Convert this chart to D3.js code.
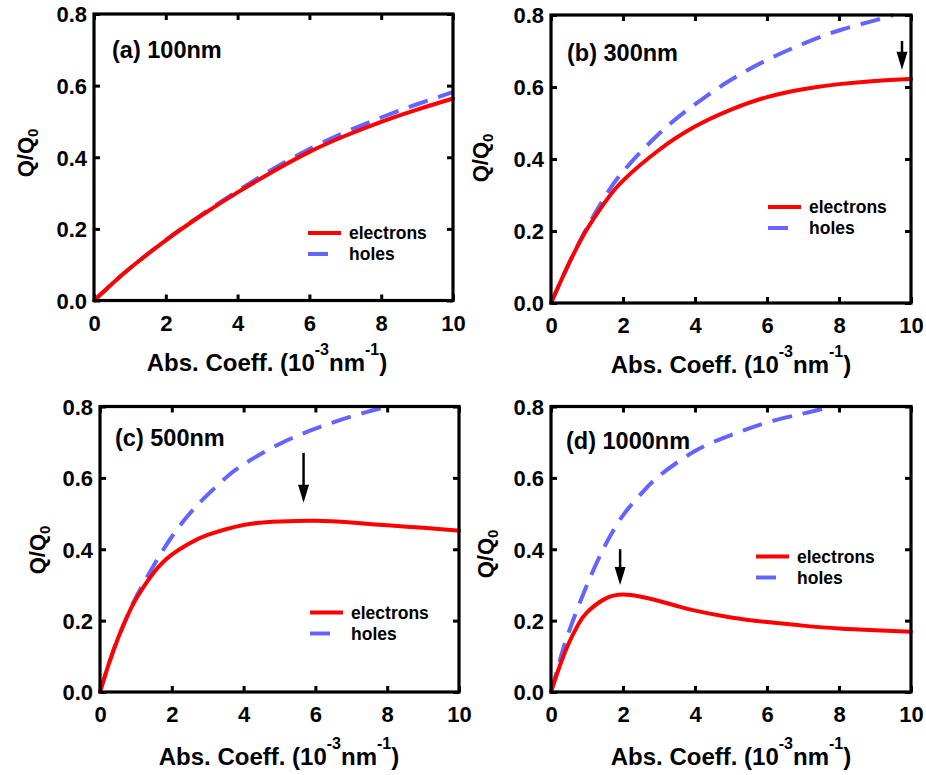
<!DOCTYPE html>
<html>
<head>
<meta charset="utf-8">
<script src="https://cdn.jsdelivr.net/npm/d3@7"></script>
<style>
  html, body { margin: 0; padding: 0; background: #fff; }
  svg { display: block; }
  text { font-family: "Liberation Sans", Arial, sans-serif; font-weight: bold; fill: #000; }
</style>
</head>
<body>
<svg id="chart" width="926" height="775"></svg>
<script>
// ---------------- DATA ----------------
const panelLabels = ["(a) 100nm", "(b) 300nm", "(c) 500nm", "(d) 1000nm"];
const seriesNames = ["electrons", "holes"];
const xTickValues = [0, 2, 4, 6, 8, 10];
const yTickValues = [0.0, 0.2, 0.4, 0.6, 0.8];
const xTitle = "Abs. Coeff.";
const yTitle = "Q/Q";

// (a) 100 nm
const electronsA = [[0,0],[0.5,0.046],[1,0.090],[2,0.168],[3,0.238],[4,0.302],[5,0.361],[6,0.415],[7,0.460],[8,0.499],[9,0.533],[10,0.564]];
const holesA     = [[0,0],[0.5,0.046],[1,0.090],[2,0.169],[3,0.240],[4,0.306],[5,0.368],[6,0.423],[7,0.470],[8,0.511],[9,0.548],[10,0.582]];
// (b) 300 nm
const electronsB = [[0,0],[0.5,0.110],[1,0.205],[1.5,0.280],[2,0.340],[3,0.425],[4,0.490],[5,0.537],[6,0.572],[7,0.594],[8,0.608],[9,0.617],[10,0.622]];
const holesB     = [[0,0],[0.5,0.110],[1,0.210],[1.5,0.295],[2,0.365],[3,0.470],[4,0.552],[5,0.620],[6,0.675],[7,0.720],[8,0.757],[9,0.785],[9.5,0.800]];
// (c) 500 nm
const electronsC = [[0,0],[0.25,0.08],[0.5,0.15],[0.75,0.21],[1,0.26],[1.5,0.335],[2,0.385],[2.5,0.417],[3,0.440],[4,0.468],[5,0.478],[6,0.480],[7,0.475],[8,0.467],[9,0.460],[10,0.452]];
const holesC     = [[0,0],[0.25,0.08],[0.5,0.15],[0.75,0.21],[1,0.265],[1.5,0.355],[2,0.435],[2.5,0.500],[3,0.553],[3.5,0.600],[4,0.638],[5,0.695],[6,0.738],[7,0.772],[8,0.800]];
// (d) 1000 nm
const electronsD = [[0,0],[0.25,0.075],[0.5,0.138],[0.75,0.188],[1,0.223],[1.5,0.261],[2,0.273],[2.5,0.267],[3,0.255],[3.5,0.241],[4,0.228],[5,0.209],[6,0.196],[7,0.186],[8,0.178],[9,0.173],[10,0.169]];
const holesD     = [[0,0],[0.25,0.09],[0.5,0.17],[1,0.300],[1.5,0.410],[2,0.495],[2.5,0.555],[3,0.605],[4,0.675],[5,0.720],[6,0.755],[7,0.780],[7.8,0.800]];

// arrow annotations: [x, yStart, yTip] (null = none)
const arrowMarks = [null, [9.75, 0.728, 0.648], [5.67, 0.67, 0.53], [1.92, 0.40, 0.30]];

const electronSeries = [electronsA, electronsB, electronsC, electronsD];
const holeSeries = [holesA, holesB, holesC, holesD];

// ---------------- LAYOUT ----------------
const panels = [
  {left: 94,  top: 14,    right: 453, bottom: 300.5, lab: [18, 44], leg: [214, 219], ytx: -69, ytc: 153, xtc: 173, xtb: 70},
  {left: 551, top: 15,    right: 911, bottom: 303,   lab: [16, 46], leg: [217, 192], ytx: -71, ytc: 158, xtc: 180, xtb: 69.5},
  {left: 100, top: 406.5, right: 459, bottom: 692,   lab: [15, 39], leg: [210, 206], ytx: -63, ytc: 550, xtc: 179, xtb: 73},
  {left: 551, top: 406.5, right: 911, bottom: 692,   lab: [15, 42], leg: [205, 150], ytx: -66, ytc: 554, xtc: 180, xtb: 73}
];

const RED = "#ff0000";
const BLUE = "#6464ff";
const svg = d3.select("#chart");
svg.append("rect").attr("width", 926).attr("height", 775).attr("fill", "#fff");

panels.forEach((p, i) => {
  const x = d3.scaleLinear().domain([0, 10]).range([p.left, p.right]);
  const y = d3.scaleLinear().domain([0, 0.8]).range([p.bottom, p.top]);
  const g = svg.append("g");

  // axes with inward ticks
  const fmt = d3.format(".1f");
  const axB = g.append("g").attr("transform", `translate(0,${p.bottom})`)
    .call(d3.axisBottom(x).tickValues(xTickValues).tickSize(-6).tickPadding(14).tickFormat(d3.format("d")));
  const axT = g.append("g").attr("transform", `translate(0,${p.top})`)
    .call(d3.axisTop(x).tickValues(xTickValues).tickSize(-6).tickFormat(""));
  const axL = g.append("g").attr("transform", `translate(${p.left},0)`)
    .call(d3.axisLeft(y).tickValues(yTickValues).tickSize(-6).tickPadding(7).tickFormat(fmt));
  const axR = g.append("g").attr("transform", `translate(${p.right},0)`)
    .call(d3.axisRight(y).tickValues(yTickValues).tickSize(-6).tickFormat(""));
  [axB, axT, axL, axR].forEach(a => {
    a.select(".domain").remove();
    a.selectAll(".tick line").attr("stroke", "#000").attr("stroke-width", 3);
    a.selectAll(".tick text").style("font-size", "22px").style("font-weight", "bold")
      .style("font-family", "'Liberation Sans', Arial, sans-serif").attr("fill", "#000");
  });
  axB.selectAll(".tick text").attr("dy", null).attr("y", 30);
  axL.selectAll(".tick text").attr("x", -7).attr("dy", "0.36em");

  // curves
  const line = d3.line().x(d => x(d[0])).y(d => y(d[1])).curve(d3.curveNatural);
  g.append("path").datum(holeSeries[i]).attr("d", line)
    .attr("fill", "none").attr("stroke", BLUE).attr("stroke-width", 4).attr("stroke-dasharray", "20,11");
  g.append("path").datum(electronSeries[i]).attr("d", line)
    .attr("fill", "none").attr("stroke", RED).attr("stroke-width", 4).attr("stroke-linecap", "round");

  // frame
  g.append("rect").attr("x", p.left).attr("y", p.top)
    .attr("width", p.right - p.left).attr("height", p.bottom - p.top)
    .attr("fill", "none").attr("stroke", "#000").attr("stroke-width", 3.2);

  // arrow
  const am = arrowMarks[i];
  if (am) {
    g.append("line").attr("x1", x(am[0])).attr("x2", x(am[0]))
      .attr("y1", y(am[1])).attr("y2", y(am[2]) - 16)
      .attr("stroke", "#000").attr("stroke-width", 2.5);
    g.append("path")
      .attr("d", `M${x(am[0]) - 5.5},${y(am[2]) - 18} L${x(am[0]) + 5.5},${y(am[2]) - 18} L${x(am[0])},${y(am[2])} Z`)
      .attr("fill", "#000");
  }

  // panel label
  g.append("text").attr("x", p.left + p.lab[0]).attr("y", p.top + p.lab[1])
    .style("font-size", "23.5px").text(panelLabels[i]);

  // legend
  const lx = p.left + p.leg[0], ly = p.top + p.leg[1];
  g.append("line").attr("x1", lx).attr("x2", lx + 33).attr("y1", ly).attr("y2", ly)
    .attr("stroke", RED).attr("stroke-width", 4);
  g.append("line").attr("x1", lx).attr("x2", lx + 33).attr("y1", ly + 21).attr("y2", ly + 21)
    .attr("stroke", BLUE).attr("stroke-width", 4).attr("stroke-dasharray", "20,13");
  g.append("text").attr("x", lx + 41).attr("y", ly + 6).style("font-size", "17.5px").text(seriesNames[0]);
  g.append("text").attr("x", lx + 41).attr("y", ly + 27).style("font-size", "17.5px").text(seriesNames[1]);

  // x title
  const xt = g.append("text").attr("x", p.left + p.xtc).attr("y", p.bottom + p.xtb)
    .attr("text-anchor", "middle").style("font-size", "24px");
  xt.append("tspan").text(xTitle + " (10");
  xt.append("tspan").attr("dy", -16).style("font-size", "16px").text("-3");
  xt.append("tspan").attr("dy", 16).text("nm");
  xt.append("tspan").attr("dy", -16).style("font-size", "16px").text("-1");
  xt.append("tspan").attr("dy", 16).text(")");

  // y title
  const yt = g.append("text")
    .attr("transform", `translate(${p.left + p.ytx + 8},${p.ytc}) rotate(-90)`)
    .attr("text-anchor", "middle").style("font-size", "22px");
  yt.append("tspan").text(yTitle);
  yt.append("tspan").attr("dy", 5).style("font-size", "15px").text("0");
});
</script>
</body>
</html>
